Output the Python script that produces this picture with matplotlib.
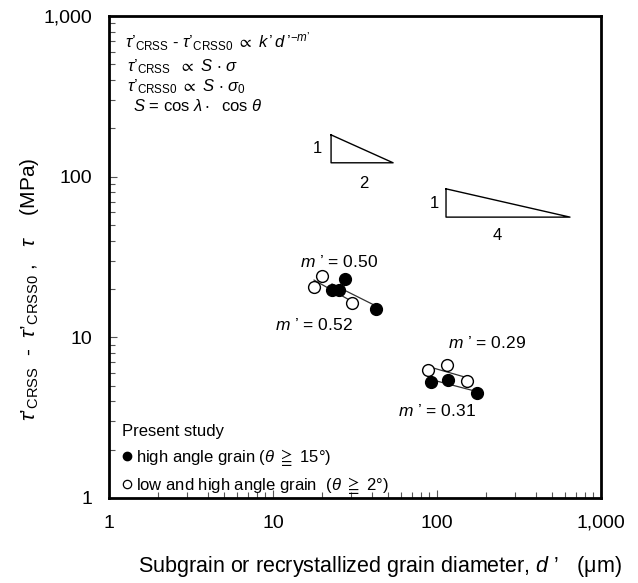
import numpy as np
import matplotlib
matplotlib.use("Agg")
import matplotlib.pyplot as plt
from matplotlib.lines import Line2D
from matplotlib.ticker import FixedLocator, FixedFormatter, LogLocator, NullFormatter

plt.rcParams['font.family'] = ['Liberation Sans', 'DejaVu Sans']
plt.rcParams['mathtext.fontset'] = 'custom'
plt.rcParams['mathtext.rm'] = 'Liberation Sans'
plt.rcParams['mathtext.it'] = 'Liberation Sans:italic'
plt.rcParams['mathtext.bf'] = 'Liberation Sans:bold'
plt.rcParams['mathtext.fallback'] = 'stix'

# ---- data ----
# group 1 (upper left cluster)
g1_high_d = [22.9, 25.3, 27.5, 42.5]
g1_high_t = [19.7, 19.7, 23.1, 15.0]
g1_low_d = [17.8, 19.9, 30.3]
g1_low_t = [20.6, 24.1, 16.3]
# group 2 (lower right cluster)
g2_high_d = [91.9, 117, 175]
g2_high_t = [5.27, 5.42, 4.50]
g2_low_d = [88.1, 115, 152]
g2_low_t = [6.26, 6.72, 5.35]

tick_vals = [1, 10, 100, 1000]
tick_labels = ["1", "10", "100", "1,000"]

fig = plt.figure(figsize=(6.38, 5.83), dpi=100)
ax = fig.add_axes([109/638, 85/583, 492/638, 482/583])
ax.set_xscale('log')
ax.set_yscale('log')
ax.set_xlim(1, 1000)
ax.set_ylim(1, 1000)


def fit_line(d, t):
    lx, ly = np.log10(d), np.log10(t)
    b, a = np.polyfit(lx, ly, 1)
    xs = np.array([min(d), max(d)])
    return xs, 10 ** (a + b * np.log10(xs))


for d, t in [(g1_high_d, g1_high_t), (g1_low_d, g1_low_t),
             (g2_high_d, g2_high_t), (g2_low_d, g2_low_t)]:
    xs, ys = fit_line(d, t)
    ax.plot(xs, ys, color='#333333', lw=0.9, zorder=2)

ms = 8.5
for d, t in [(g1_low_d, g1_low_t), (g2_low_d, g2_low_t)]:
    ax.plot(d, t, 'o', ms=ms, mfc='white', mec='black', mew=1.0, ls='none', zorder=3)
for d, t in [(g1_high_d, g1_high_t), (g2_high_d, g2_high_t)]:
    ax.plot(d, t, 'o', ms=ms, mfc='black', mec='black', mew=1.0, ls='none', zorder=4)

# slope triangles
tri_small = dict(x0=22.6, x1=54, y0=122, y1=182)
tri_large = dict(x0=113.5, x1=647, y0=56, y1=84)
for tr in (tri_small, tri_large):
    ax.plot([tr['x0'], tr['x0'], tr['x1'], tr['x0']],
            [tr['y1'], tr['y0'], tr['y0'], tr['y1']], color='black', lw=1.0)

tf = ax.transAxes
ax.text(0.423, 0.726, "1", transform=tf, fontsize=12, ha='center', va='center')
ax.text(0.518, 0.652, "2", transform=tf, fontsize=12, ha='center', va='center')
ax.text(0.661, 0.612, "1", transform=tf, fontsize=12, ha='center', va='center')
ax.text(0.789, 0.544, "4", transform=tf, fontsize=12, ha='center', va='center')

ap = "\u2019"
mfs = 12.5
ax.text(0.388, 0.490, "$m$ " + ap + " = 0.50", transform=tf, fontsize=mfs, va='center')
ax.text(0.337, 0.359, "$m$ " + ap + " = 0.52", transform=tf, fontsize=mfs, va='center')
ax.text(0.689, 0.322, "$m$ " + ap + " = 0.29", transform=tf, fontsize=mfs, va='center')
ax.text(0.587, 0.180, "$m$ " + ap + " = 0.31", transform=tf, fontsize=mfs, va='center')

# equations
eq_fs = 12
ax.text(0.033, 0.946,
        r"$\tau$" + ap + r"$_{\rm CRSS}$ - $\tau$" + ap + r"$_{\rm CRSS0}$ $\propto$ $k\,$" + ap + r"$\,d\,$" + ap + r"$^{\mathrm{-}m" + ap + "}$",
        transform=tf, fontsize=eq_fs, va='center')
ax.text(0.037, 0.894, r"$\tau$" + ap + r"$_{\rm CRSS}$  $\propto$ $S$ $\cdot$ $\sigma$",
        transform=tf, fontsize=eq_fs, va='center')
ax.text(0.037, 0.853, r"$\tau$" + ap + r"$_{\rm CRSS0}$ $\propto$ $S$ $\cdot$ $\sigma_0$",
        transform=tf, fontsize=eq_fs, va='center')
ax.text(0.049, 0.813, r"$S$ = cos $\lambda\cdot$  cos $\theta$",
        transform=tf, fontsize=eq_fs, va='center')

# legend
handles = [Line2D([], [], marker='o', ls='none', ms=6, mfc='black', mec='black'),
           Line2D([], [], marker='o', ls='none', ms=6, mfc='white', mec='black', mew=0.9)]
labels = [r"high angle grain ($\theta$ $\geqq$ 15°)", r"low and high angle grain  ($\theta$ $\geqq$ 2°)"]
leg = ax.legend(handles, labels, title="Present study", loc='lower left', frameon=False,
                bbox_to_anchor=(0.012, -0.012),
                fontsize=12, title_fontsize=12, handlelength=0.5, handletextpad=0.3,
                labelspacing=0.45, borderaxespad=0.15, borderpad=0.3, alignment='left')

# axes styling
for s in ax.spines.values():
    s.set_linewidth(2.0)
ax.xaxis.set_major_locator(FixedLocator(tick_vals))
ax.xaxis.set_major_formatter(FixedFormatter(tick_labels))
ax.yaxis.set_major_locator(FixedLocator(tick_vals))
ax.yaxis.set_major_formatter(FixedFormatter(tick_labels))
ax.xaxis.set_minor_locator(LogLocator(base=10, subs=np.arange(2, 10)))
ax.yaxis.set_minor_locator(LogLocator(base=10, subs=np.arange(2, 10)))
ax.xaxis.set_minor_formatter(NullFormatter())
ax.yaxis.set_minor_formatter(NullFormatter())
ax.tick_params(which='both', direction='in', top=False, right=False, labelsize=14, width=0.8, color='#555555')
ax.tick_params(which='major', length=6, pad=12)
ax.tick_params(which='minor', length=4)

fig.text(0.595, 0.029, "Subgrain or recrystallized grain diameter, $d$ " + ap + "   (μm)",
         fontsize=15.5, ha='center', va='center')
fig.text(0.047, 0.503, r"$\tau$" + ap + r"$_{\rm CRSS}$  -  $\tau$" + ap + r"$_{\rm CRSS0}$ ,   $\tau$    (MPa)",
         fontsize=15, ha='center', va='center', rotation=90)

fig.savefig("out.png", dpi=100)
